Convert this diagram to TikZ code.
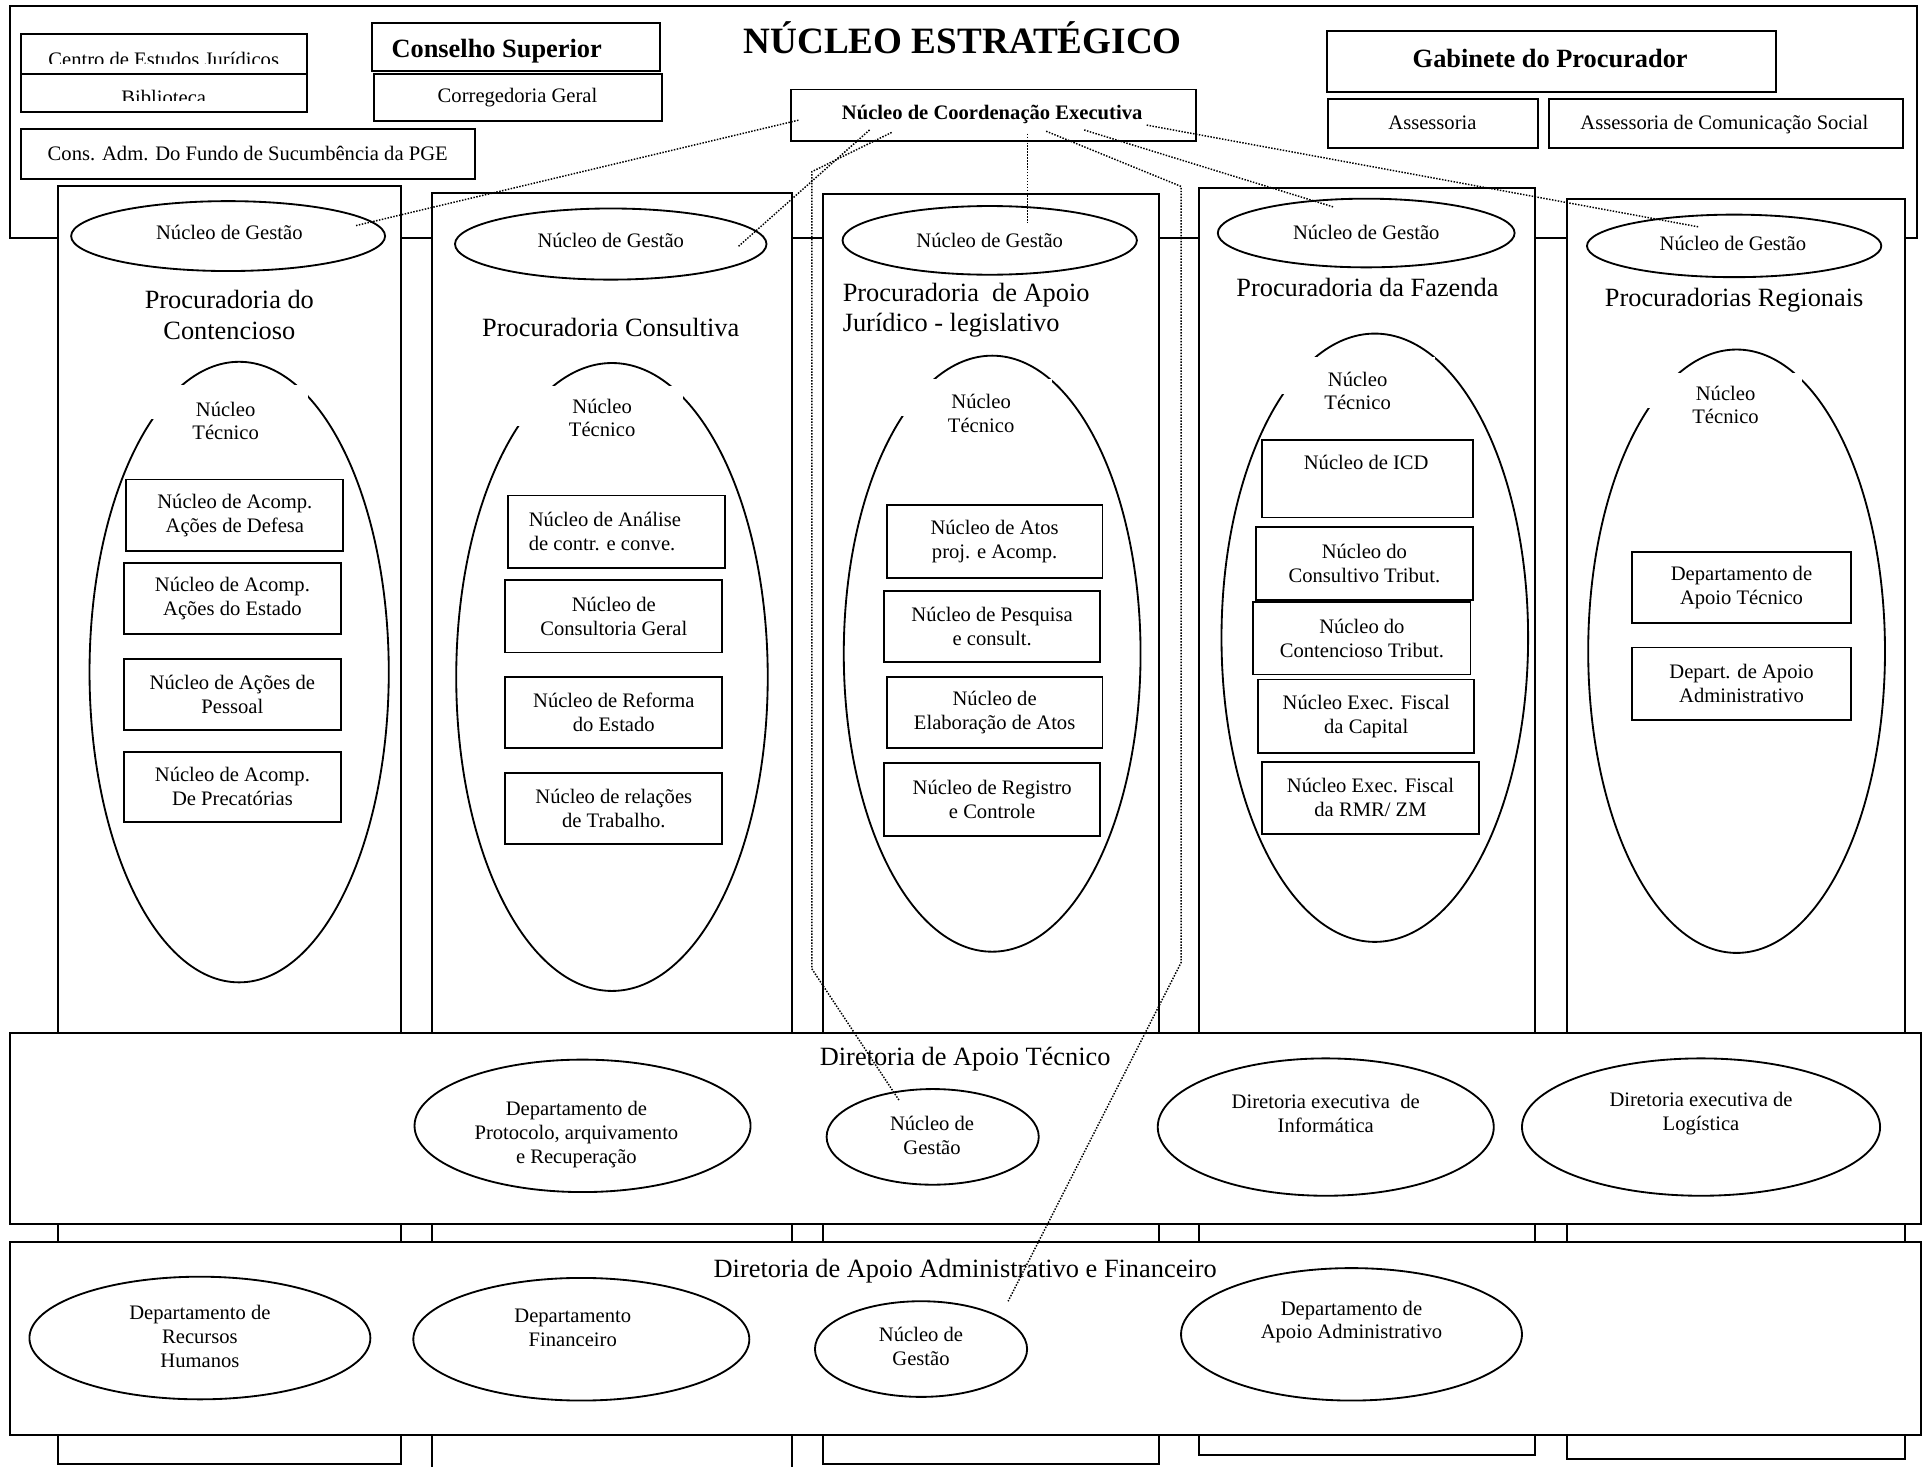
\documentclass[tikz,border=0pt]{standalone}
\usepackage{fontspec}
\setmainfont{Liberation Serif}
\usetikzlibrary{shapes.geometric}
\newcommand\fz[2]{\fontsize{#1pt}{#2pt}\selectfont}
\tikzset{
  bx/.style={draw, line width=1.5pt, inner sep=0pt, outer sep=0pt},
  colbox/.style={draw, fill=white, line width=1.6pt, inner sep=0pt, outer sep=0pt},
  ell/.style={draw, ellipse, line width=1.5pt, inner sep=0pt, outer sep=0pt, fill=white},
  txt/.style={inner sep=0pt, align=center, font=\fz{16.8}{19.5}},
  big/.style={inner sep=0pt, align=center, font=\fz{21.5}{25}},
  bigb/.style={inner sep=0pt, align=center, font=\bfseries\fz{21.5}{25}},
  dotl/.style={line width=1.2pt, dash pattern=on 1.2pt off 1.2pt},
  coverw/.style={fill=white, draw=none},
}
\begin{document}
\begin{tikzpicture}[x=1pt,y=-1pt]
\useasboundingbox (0,0) rectangle (1568,1196);
\clip (0,0) rectangle (1568,1196);
% ---------- Nucleo estrategico ----------
\node[bx, minimum width=1555pt, minimum height=189pt] (estrat) at (785.5,99.5) {};
\node[inner sep=0pt, anchor=base, font=\bfseries\fz{30.3}{34}] (title) at (785,44) {NÚCLEO ESTRATÉGICO};

\node[bx, minimum width=233pt, minimum height=32pt] (centro) at (133.5,44) {};
\begin{scope}
  \clip (17,28) rectangle (250,51.7);
  \node[txt, anchor=base] (centrot) at (133.5,54.5) {Centro de Estudos Jurídicos};
\end{scope}
\node[bx, minimum width=233pt, minimum height=31pt] (biblio) at (133.5,75.5) {};
\begin{scope}
  \clip (17,60) rectangle (250,81.6);
  \node[txt, anchor=base] (bibliot) at (133.5,85) {Biblioteca};
\end{scope}

\node[bx, minimum width=235pt, minimum height=39pt] (conselho) at (420.5,38.5) {};
\node[bigb, anchor=base] (conselhot) at (405,47) {Conselho Superior};
\node[bx, minimum width=235pt, minimum height=39pt] (correg) at (422.5,79.5) {};
\node[txt, anchor=base] (corregt) at (422,83.5) {Corregedoria Geral};
\node[bx, minimum width=370pt, minimum height=41pt] (consadm) at (202,125.5) {};
\node[txt, anchor=base] (consadmt) at (202,130.5) {Cons. Adm. Do Fundo de Sucumbência da PGE};

\node[bx, minimum width=330pt, minimum height=42pt] (coord) at (810,94) {};
\node[inner sep=0pt, anchor=base, font=\bfseries\fz{16.8}{19}] (coordt) at (809,97.5) {Núcleo de Coordenação Executiva};

\node[bx, minimum width=366pt, minimum height=50pt] (gab) at (1265,50) {};
\node[bigb, anchor=base] (gabt) at (1264,55) {Gabinete do Procurador};
\node[bx, minimum width=171pt, minimum height=40pt] (assess) at (1168.5,101) {};
\node[txt, anchor=base] (assesst) at (1168,106) {Assessoria};
\node[bx, minimum width=289pt, minimum height=40pt] (asscom) at (1407.5,101) {};
\node[txt, anchor=base] (asscomt) at (1406,105.5) {Assessoria de Comunicação Social};

% ---------- Columns ----------
\node[colbox, minimum width=280pt, minimum height=1042pt] (col1) at (187,673) {};
\node[colbox, minimum width=294pt, minimum height=1053pt] (col2) at (499,683.5) {};
\node[colbox, minimum width=274pt, minimum height=1036pt] (col3) at (808,676) {};
\node[colbox, minimum width=274pt, minimum height=1033pt] (col4) at (1115,669.5) {};
\node[colbox, minimum width=275pt, minimum height=1028pt] (col5) at (1415.5,676) {};

% gestao ellipses
\node[ell, minimum width=256pt, minimum height=57pt] (g1) at (186,192.5) {};
\node[txt, anchor=base] (g1t) at (187,195.5) {Núcleo de Gestão};
\node[ell, minimum width=254pt, minimum height=58pt] (g2) at (498,199) {};
\node[txt, anchor=base] (g2t) at (498,201.5) {Núcleo de Gestão};
\node[ell, minimum width=240pt, minimum height=56pt] (g3) at (807,196) {};
\node[txt, anchor=base] (g3t) at (807,201.5) {Núcleo de Gestão};
\node[ell, minimum width=242pt, minimum height=56pt] (g4) at (1114,190) {};
\node[txt, anchor=base] (g4t) at (1114,195.5) {Núcleo de Gestão};
\node[ell, minimum width=240pt, minimum height=51pt] (g5) at (1414,200.5) {};
\node[txt, anchor=base] (g5t) at (1413,204.5) {Núcleo de Gestão};

% column titles
\node[big] (t1) at (187,257) {Procuradoria do\\Contencioso};
\node[big, anchor=base] (t2) at (498,274) {Procuradoria Consultiva};
\node[big, align=left, anchor=west] (t3) at (687,253) {Procuradoria~ de Apoio\\Jurídico - legislativo};
\node[big, anchor=base] (t4) at (1115,242) {Procuradoria da Fazenda};
\node[big, anchor=base] (t5) at (1414,250) {Procuradorias Regionais};

% tecnico ellipses
\node[ell, minimum width=244pt, minimum height=506pt] (e1) at (195,548) {};
\fill[coverw] (100,314) rectangle (251,342);
\node[txt, font=\fz{16.8}{19}] (e1t) at (184,343) {Núcleo\\Técnico};
\node[ell, minimum width=254pt, minimum height=512pt] (e2) at (499,552) {};
\fill[coverw] (395,315) rectangle (557,347);
\node[txt, font=\fz{16.8}{19}] (e2t) at (491,341) {Núcleo\\Técnico};
\node[ell, minimum width=242pt, minimum height=486pt] (e3) at (809,533) {};
\fill[coverw] (700,309) rectangle (858,339);
\node[txt, font=\fz{16.8}{19}] (e3t) at (800,337) {Núcleo\\Técnico};
\node[ell, minimum width=250pt, minimum height=496pt] (e4) at (1121,520) {};
\fill[coverw] (1030,291) rectangle (1170,321);
\node[txt, font=\fz{16.8}{19}] (e4t) at (1107,319) {Núcleo\\Técnico};
\node[ell, minimum width=242pt, minimum height=492pt] (e5) at (1416,531) {};
\fill[coverw] (1330,304) rectangle (1469,333);
\node[txt, font=\fz{16.8}{19}] (e5t) at (1407,330) {Núcleo\\Técnico};

% inner boxes col1
\node[bx, minimum width=177pt, minimum height=58pt, txt] (n11) at (191.5,420) {Núcleo de Acomp.\\Ações de Defesa};
\node[bx, minimum width=177pt, minimum height=58pt, txt] (n12) at (189.5,488) {Núcleo de Acomp.\\Ações do Estado};
\node[bx, minimum width=177pt, minimum height=58pt, txt] (n13) at (189.5,566) {Núcleo de Ações de\\Pessoal};
\node[bx, minimum width=177pt, minimum height=57pt, txt] (n14) at (189.5,641.5) {Núcleo de Acomp.\\De Precatórias};
% col2
\node[bx, minimum width=177pt, minimum height=59pt] (n21) at (502.5,433.5) {};
\node[txt, align=left, anchor=west] (n21t) at (431,433.5) {Núcleo de Análise\\de contr. e conve.};
\node[bx, minimum width=177pt, minimum height=59pt, txt] (n22) at (500.5,502.5) {Núcleo de\\Consultoria Geral};
\node[bx, minimum width=177pt, minimum height=58pt, txt] (n23) at (500.5,581) {Núcleo de Reforma\\do Estado};
\node[bx, minimum width=177pt, minimum height=58pt, txt] (n24) at (500.5,659) {Núcleo de relações\\de Trabalho.};
% col3
\node[bx, minimum width=176pt, minimum height=59pt, txt] (n31) at (811,441.5) {Núcleo de Atos\\proj. e Acomp.};
\node[bx, minimum width=176pt, minimum height=58pt, txt] (n32) at (809,511) {Núcleo de Pesquisa\\e consult.};
\node[bx, minimum width=176pt, minimum height=58pt, txt] (n33) at (811,581) {Núcleo de\\Elaboração de Atos};
\node[bx, minimum width=176pt, minimum height=60pt, txt] (n34) at (809,652) {Núcleo de Registro\\e Controle};
% col4
\node[bx, minimum width=172pt, minimum height=63pt] (n41) at (1115,390.5) {};
\node[txt, anchor=base] (n41t) at (1114,382.5) {Núcleo de ICD};
\node[bx, minimum width=177pt, minimum height=59pt, txt] (n42) at (1112.5,459.5) {Núcleo do\\Consultivo Tribut.};
\node[bx, minimum width=177pt, minimum height=59pt, txt] (n43) at (1110.5,520.5) {Núcleo do\\Contencioso Tribut.};
\node[bx, minimum width=176pt, minimum height=60pt, txt] (n44) at (1114,584) {Núcleo Exec. Fiscal\\da Capital};
\node[bx, minimum width=177pt, minimum height=59pt, txt] (n45) at (1117.5,650.5) {Núcleo Exec. Fiscal\\da RMR/ ZM};
% col5
\node[bx, minimum width=178pt, minimum height=58pt, txt] (n51) at (1420,479) {Departamento de\\Apoio Técnico};
\node[bx, minimum width=178pt, minimum height=59pt, txt] (n52) at (1420,557.5) {Depart. de Apoio\\Administrativo};

% ---------- Bars ----------
\node[colbox, minimum width=1558pt, minimum height=156pt] (bar1) at (787,920) {};
\node[big, anchor=base] (bar1t) at (787,869) {Diretoria de Apoio Técnico};
\node[ell, minimum width=274pt, minimum height=108pt] (b1) at (475,918) {};
\node[txt] (b1t) at (470,925) {Departamento de\\Protocolo, arquivamento\\e Recuperação};
\node[ell, minimum width=173pt, minimum height=78pt] (b2) at (760.5,927) {};
\node[txt] (b2t) at (760,926) {Núcleo de\\Gestão};
\node[ell, minimum width=274pt, minimum height=112pt] (b3) at (1081,919) {};
\node[txt] (b3t) at (1081,908) {Diretoria executiva~ de\\Informática};
\node[ell, minimum width=292pt, minimum height=112pt] (b4) at (1387,919) {};
\node[txt] (b4t) at (1387,908) {Diretoria executiva de\\Logística};

\node[colbox, minimum width=1558pt, minimum height=157pt] (bar2) at (787,1091.5) {};
\node[big, anchor=base] (bar2t) at (787,1042) {Diretoria de Apoio Administrativo e Financeiro};
\node[ell, minimum width=278pt, minimum height=100pt] (c1) at (163,1091) {};
\node[txt] (c1t) at (163,1090) {Departamento de\\Recursos\\Humanos};
\node[ell, minimum width=274pt, minimum height=100pt] (c2) at (474,1092) {};
\node[txt] (c2t) at (467,1083) {Departamento\\Financeiro};
\node[ell, minimum width=173pt, minimum height=78pt] (c3) at (751,1100) {};
\node[txt] (c3t) at (751,1098) {Núcleo de\\Gestão};
\node[ell, minimum width=278pt, minimum height=108pt] (c4) at (1102,1088) {};
\node[txt] (c4t) at (1102,1078) {Departamento de\\Apoio Administrativo};

% ---------- dotted connectors ----------
\coordinate (sA) at (651,98);  \coordinate (eA) at (290,184);
\coordinate (sB) at (709,106); \coordinate (eB) at (602,201);
\coordinate (sC) at (727,108); \coordinate (kC1) at (662,140); \coordinate (kC2) at (662,790); \coordinate (eC) at (733,897);
\coordinate (sV) at (838,109); \coordinate (eV) at (838,182);
\coordinate (sD) at (853,107); \coordinate (kD1) at (963,152); \coordinate (kD2) at (963,785); \coordinate (eD) at (822,1061);
\coordinate (sE) at (884,106); \coordinate (eE) at (1088,169);
\coordinate (sF) at (935,102); \coordinate (eF) at (1385,185);
\draw[dotl] (sA) -- (eA);
\draw[dotl] (sB) -- (eB);
\draw[dotl] (sC) -- (kC1) -- (kC2) -- (eC);
\draw[dotl] (sV) -- (eV);
\draw[dotl] (sD) -- (kD1) -- (kD2) -- (eD);
\draw[dotl] (sE) -- (eE);
\draw[dotl] (sF) -- (eF);
\end{tikzpicture}
\end{document}
